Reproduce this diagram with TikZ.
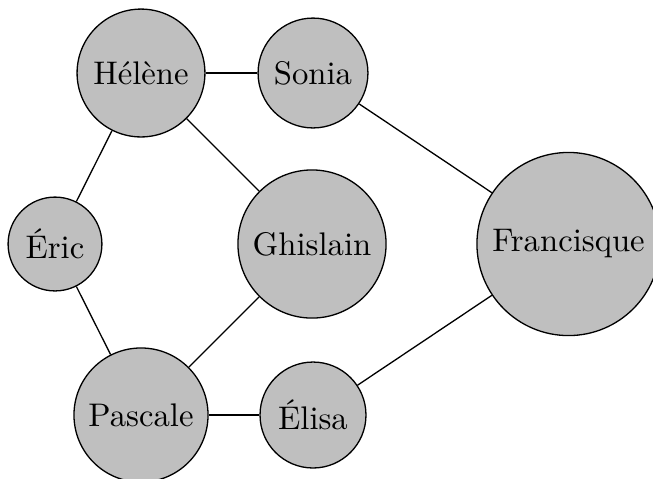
\documentclass[tikz,border=0pt]{standalone}
\begin{document}
\begin{tikzpicture}[x=0.3058pt,y=-0.3058pt,
  person/.style={circle,draw=black,fill=lightgray,inner sep=0pt,line width=0.4pt},
  link/.style={draw=black,line width=0.4pt}]
\useasboundingbox (0,0) rectangle (653,478);
\node[person,minimum size=39.1pt] (helene) at (141,73) {Hélène};
\node[person,minimum size=33.6pt] (sonia) at (313,73) {Sonia};
\node[person,minimum size=28.7pt] (eric) at (55,244) {Éric};
\node[person,minimum size=45.3pt] (ghislain) at (312,244) {Ghislain};
\node[person,minimum size=56pt] (francisque) at (568.5,244) {Francisque};
\node[person,minimum size=41pt] (pascale) at (141,415) {Pascale};
\node[person,minimum size=32.4pt] (elisa) at (313,415) {Élisa};
\draw[link] (helene) -- (sonia);
\draw[link] (helene) -- (eric);
\draw[link] (helene) -- (ghislain);
\draw[link] (sonia) -- (francisque);
\draw[link] (eric) -- (pascale);
\draw[link] (ghislain) -- (pascale);
\draw[link] (pascale) -- (elisa);
\draw[link] (elisa) -- (francisque);
\end{tikzpicture}
\end{document}
